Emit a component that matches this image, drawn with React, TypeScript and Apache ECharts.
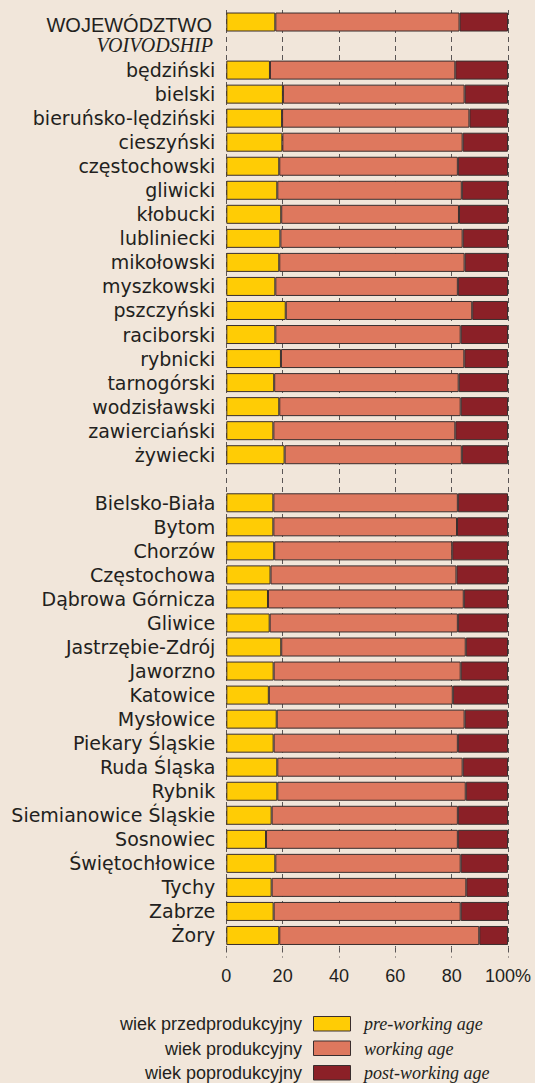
import React, { useEffect, useRef } from 'react';
import * as echarts from 'echarts';

const categories = [
  'WOJEWÓDZTWO', ' ',
  'będziński', 'bielski', 'bieruńsko-lędziński', 'cieszyński', 'częstochowski', 'gliwicki', 'kłobucki',
  'lubliniecki', 'mikołowski', 'myszkowski', 'pszczyński', 'raciborski', 'rybnicki', 'tarnogórski',
  'wodzisławski', 'zawierciański', 'żywiecki', '  ',
  'Bielsko-Biała', 'Bytom', 'Chorzów', 'Częstochowa', 'Dąbrowa Górnicza', 'Gliwice', 'Jastrzębie-Zdrój',
  'Jaworzno', 'Katowice', 'Mysłowice', 'Piekary Śląskie', 'Ruda Śląska', 'Rybnik', 'Siemianowice Śląskie',
  'Sosnowiec', 'Świętochłowice', 'Tychy', 'Zabrze', 'Żory'
];

const preWorking = [
  17.4, null,
  15.5, 20.1, 19.8, 19.9, 18.8, 18.1, 19.5, 19.2, 18.8, 17.4, 21.1, 17.4, 19.4, 17.0, 18.8, 16.7, 20.7, null,
  16.7, 16.7, 17.0, 15.7, 14.8, 15.4, 19.5, 16.8, 15.1, 17.9, 16.8, 18.1, 18.1, 16.1, 14.1, 17.4, 16.1, 16.8, 18.8
];
const working = [
  65.4, null,
  65.8, 64.5, 66.5, 64.0, 63.4, 65.5, 63.1, 64.7, 65.8, 64.8, 66.2, 65.8, 65.1, 65.5, 64.4, 64.6, 62.9, null,
  65.5, 65.2, 63.2, 66.0, 69.5, 66.8, 65.5, 66.4, 65.3, 66.7, 65.4, 65.8, 66.9, 66.1, 68.1, 65.8, 69.1, 66.4, 71.0
];
const postWorking = [
  17.2, null,
  18.7, 15.4, 13.7, 16.1, 17.8, 16.4, 17.4, 16.1, 15.4, 17.8, 12.7, 16.8, 15.5, 17.5, 16.8, 18.7, 16.4, null,
  17.8, 18.1, 19.8, 18.3, 15.7, 17.8, 15.0, 16.8, 19.6, 15.4, 17.8, 16.1, 15.0, 17.8, 17.8, 16.8, 14.8, 16.8, 10.2
];

const xTicks = [0, 20, 40, 60, 80, 100];
const headerPl = 'WOJEWÓDZTWO';
const headerEn = 'VOIVODSHIP';
const legendPl = ['wiek przedprodukcyjny', 'wiek produkcyjny', 'wiek poprodukcyjny'];
const legendEn = ['pre-working age', 'working age', 'post-working age'];
const colors = ['#FFCC05', '#DE785E', '#8B2027'];

const TEXT = '#231F20';
const BORDER = '#3a2e2e';
const GRIDC = '#5a5555';

export default function App() {
  const ref = useRef<HTMLDivElement>(null);
  useEffect(() => {
    const chart = echarts.init(ref.current as HTMLDivElement, null, { renderer: 'svg' });
    const seriesData = [preWorking, working, postWorking];
    const legendGraphics: any[] = [];
    legendPl.forEach((t, i) => {
      const cy = 1024 + i * 24.5;
      legendGraphics.push({
        type: 'text', x: 302, y: cy,
        style: { text: t, fill: TEXT, font: '18px "Liberation Sans"', align: 'right', verticalAlign: 'middle' }
      });
      legendGraphics.push({
        type: 'rect', shape: { x: 313.5, y: cy - 7.5, width: 37, height: 14.5 },
        style: { fill: colors[i], stroke: BORDER, lineWidth: 1 }
      });
      legendGraphics.push({
        type: 'text', x: 364, y: cy,
        style: { text: legendEn[i], fill: TEXT, font: 'italic 18px "Liberation Serif"', align: 'left', verticalAlign: 'middle' }
      });
    });
    chart.setOption({
      animation: false,
      backgroundColor: '#F1E6DA',
      grid: { left: 226.3, right: 27, top: 10, bottom: 135.5, containLabel: false },
      xAxis: {
        type: 'value', min: 0, max: 100, interval: 20,
        axisLine: { show: false },
        axisTick: { show: true, length: 10, lineStyle: { color: GRIDC, type: [5, 4], width: 1 } },
        splitLine: { show: true, lineStyle: { color: GRIDC, type: [5, 4], width: 1 } },
        axisLabel: {
          formatter: (v: number) => (v === xTicks[xTicks.length - 1] ? v + '%' : String(v)),
          fontFamily: 'Liberation Sans', fontSize: 18, color: TEXT, margin: 19
        }
      },
      yAxis: {
        type: 'category', data: categories, inverse: true,
        axisLine: { show: false }, axisTick: { show: false },
        axisLabel: {
          interval: 0, fontFamily: 'DejaVu Sans', fontSize: 19, color: TEXT, margin: 11,
          padding: [6, 0, 0, 0],
          formatter: (v: string) => (v === headerPl || !v.trim() ? '' : v)
        }
      },
      series: seriesData.map((d, i) => ({
        type: 'bar', stack: 'total', barWidth: 19, data: d,
        itemStyle: { color: colors[i], borderColor: BORDER, borderWidth: 1 }
      })),
      graphic: [
        {
          type: 'text', x: 212, y: 25,
          style: { text: headerPl, fill: TEXT, font: '20px "Liberation Sans"', align: 'right', verticalAlign: 'middle' }
        },
        {
          type: 'text', x: 213, y: 45,
          style: { text: headerEn, fill: TEXT, font: 'italic 20px "Liberation Serif"', align: 'right', verticalAlign: 'middle' }
        },
        ...legendGraphics
      ]
    });
    return () => chart.dispose();
  }, []);
  return <div ref={ref} style={{ position: 'absolute', left: 0, top: 0, width: 535, height: 1083 }} />;
}
